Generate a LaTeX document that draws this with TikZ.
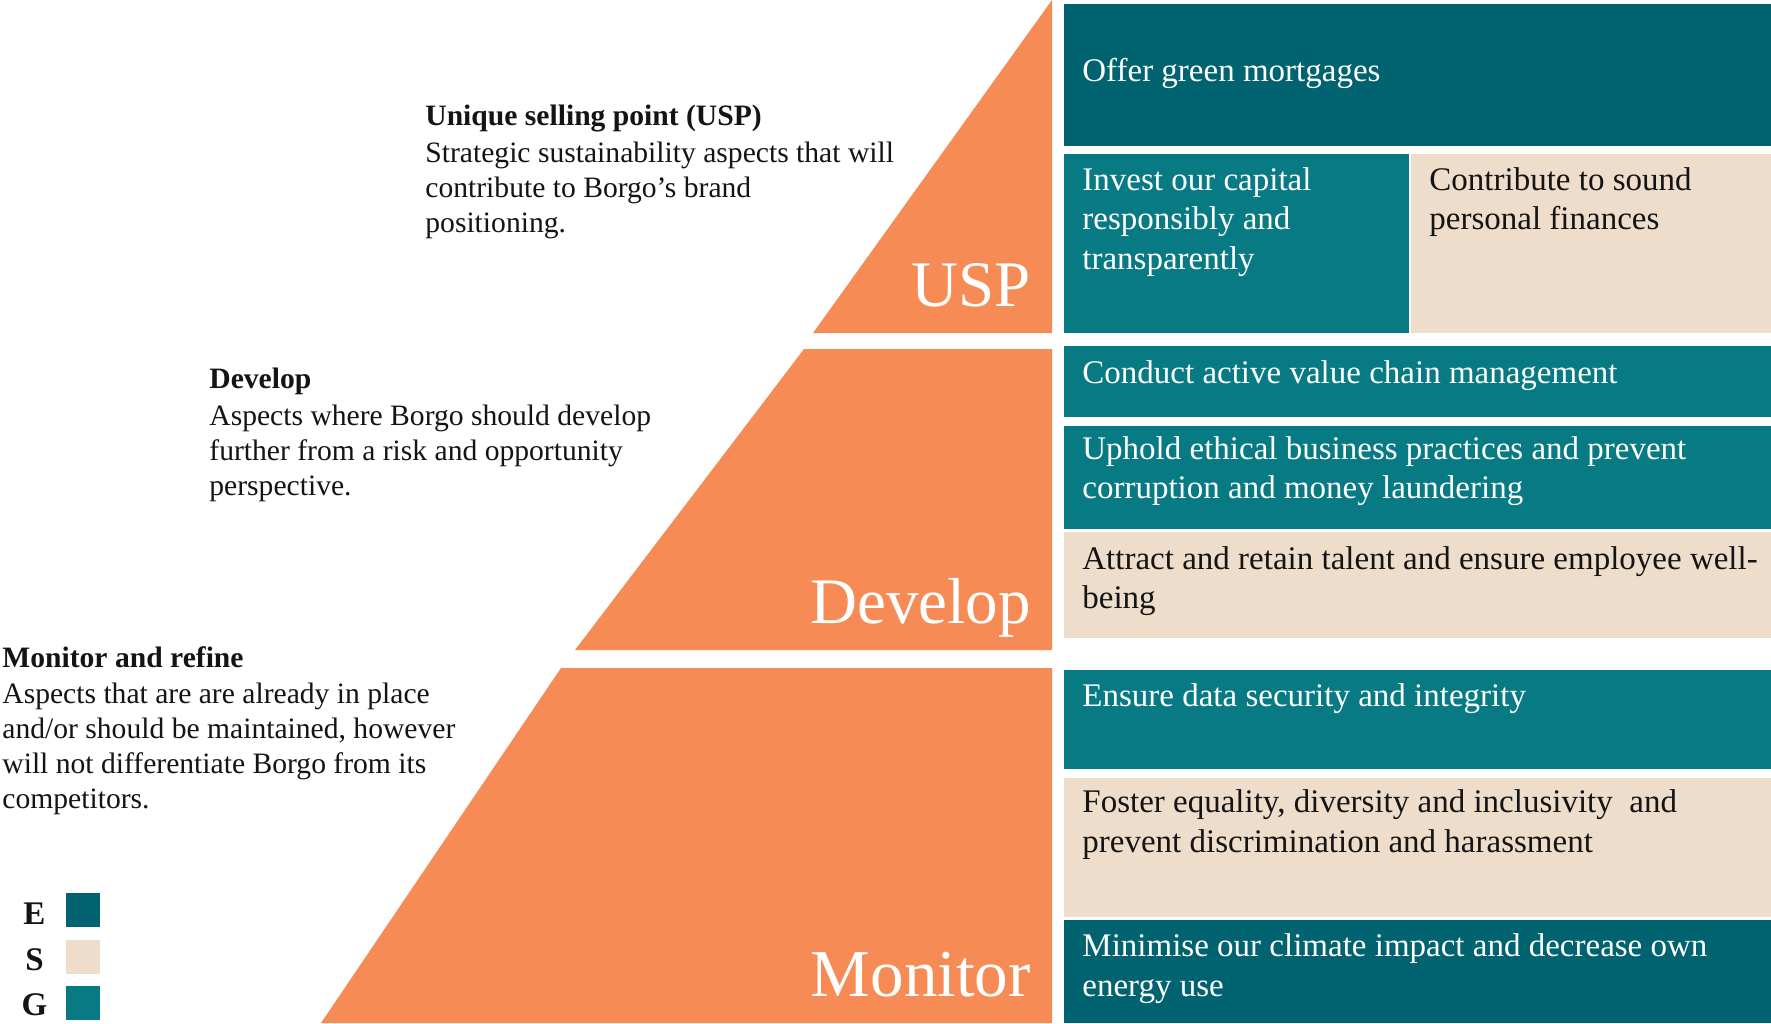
\documentclass[tikz,border=0pt]{standalone}
\usepackage{fontspec}
\setmainfont{Liberation Serif}
\definecolor{orng}{RGB}{246,139,85}
\definecolor{esgE}{RGB}{1,99,111}
\definecolor{esgG}{RGB}{8,122,131}
\definecolor{esgS}{RGB}{238,221,203}
\definecolor{ink}{RGB}{20,20,20}
\newcommand\stk[1]{\vtop{\halign{##\hfil\cr#1\crcr}}}
\begin{document}
\begin{tikzpicture}[x=0.5pt,y=-0.5pt,
  lbl/.style={anchor=base west, inner sep=0pt, text=ink, font=\fontsize{14.8}{17.5}\selectfont},
  head/.style={anchor=base west, inner sep=0pt, text=ink, font=\fontsize{14.8}{17.5}\selectfont\bfseries},
  boxw/.style={anchor=base west, inner sep=0pt, text=white, font=\fontsize{16.5}{19.75}\selectfont},
  boxk/.style={anchor=base west, inner sep=0pt, text=ink, font=\fontsize{16.5}{19.75}\selectfont},
  big/.style={anchor=base east, inner sep=0pt, text=white, font=\fontsize{32.5}{36}\selectfont},
  leg/.style={anchor=base, inner sep=0pt, text=ink, font=\fontsize{16.5}{18}\selectfont\bfseries}]
\useasboundingbox[fill=white] (0,0) rectangle (1771,1023);

% pyramid
\fill[orng] (1052,0) -- (1052,333) -- (813,333) -- cycle;
\fill[orng] (804,349) -- (1052,349) -- (1052,650) -- (575,650) -- cycle;
\fill[orng] (561,668) -- (1052,668) -- (1052,1023) -- (321,1023) -- cycle;
\node[big] (tusp) at (1031,306.7) {USP};
\node[big] (tdev) at (1031,623.3) {Develop};
\node[big, font=\fontsize{33.5}{36}\selectfont] (tmon) at (1031,996.7) {Monitor};

% boxes
\fill[esgE] (1064,4) rectangle (1771,146);
\fill[esgG] (1064,154) rectangle (1409,333);
\fill[esgS] (1411,154) rectangle (1771,333);
\fill[esgG] (1064,346) rectangle (1771,417);
\fill[esgG] (1064,426) rectangle (1771,529);
\fill[esgS] (1064,532) rectangle (1771,638);
\fill[esgG] (1064,670) rectangle (1771,769);
\fill[esgS] (1064,778) rectangle (1771,917);
\fill[esgE] (1064,920) rectangle (1771,1023);

\node[boxw] (b1) at (1082,81.7) {Offer green mortgages};
\node[boxw] (b2) at (1082,190) {\stk{Invest our capital\cr responsibly and\cr transparently}};
\node[boxk] (b3) at (1429,190) {\stk{Contribute to sound\cr personal finances}};
\node[boxw] (b4) at (1082,383.3) {Conduct active value chain management};
\node[boxw] (b5) at (1082,459.3) {\stk{Uphold ethical business practices and prevent\cr corruption and money laundering}};
\node[boxk] (b6) at (1082,569.3) {\stk{Attract and retain talent and ensure employee well-\cr being}};
\node[boxw] (b7) at (1082,706.7) {Ensure data security and integrity};
\node[boxk] (b8) at (1082,812.7) {\stk{Foster equality, diversity and inclusivity\ \ and\cr prevent discrimination and harassment}};
\node[boxw] (b9) at (1082,956.7) {\stk{Minimise our climate impact and decrease own\cr energy use}};

% left descriptions
\node[head] (h1) at (425,125) {Unique selling point (USP)};
\node[lbl] (d1) at (425,162) {\stk{Strategic sustainability aspects that will\cr contribute to Borgo’s brand\cr positioning.}};
\node[head] (h2) at (209,388) {Develop};
\node[lbl] (d2) at (209,425) {\stk{Aspects where Borgo should develop\cr further from a risk and opportunity\cr perspective.}};
\node[head] (h3) at (2,667) {Monitor and refine};
\node[lbl] (d3) at (2,703) {\stk{Aspects that are are already in place\cr and/or should be maintained, however\cr will not differentiate Borgo from its\cr competitors.}};

% legend
\fill[esgE] (66,893) rectangle (100,927);
\fill[esgS] (66,940) rectangle (100,974);
\fill[esgG] (66,986) rectangle (100,1020);
\node[leg] (lE) at (34.5,924.3) {E};
\node[leg] (lS) at (34.5,970) {S};
\node[leg] (lG) at (34.5,1015) {G};
\end{tikzpicture}
\end{document}
